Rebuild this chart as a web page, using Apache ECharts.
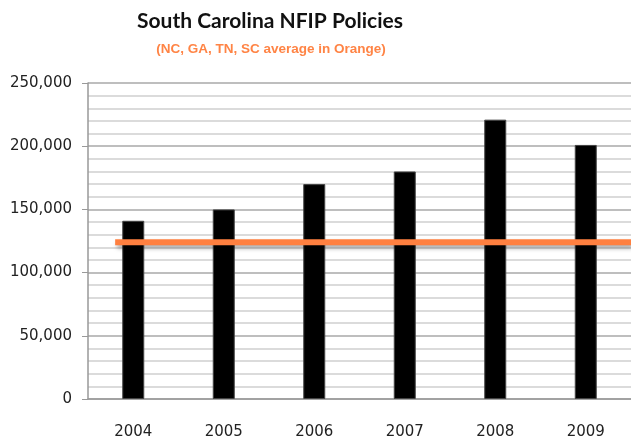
<!DOCTYPE html>
<html>
<head>
<meta charset="utf-8">
<script src="https://cdn.jsdelivr.net/npm/echarts@6/dist/echarts.min.js"></script>
<style>
  html, body { margin: 0; padding: 0; background: #fff; }
  #main { width: 631px; height: 442px; }
</style>
</head>
<body>
<div id="main"></div>
<script>
const years = ['2004', '2005', '2006', '2007', '2008', '2009']
const policies = [141000, 150000, 170000, 180000, 221000, 201000]
// orange average line, x in category units (starts a bit left of 2004)
const avgX = [0.3, 6]
const avgY = [124000, 124000]

const chart = echarts.init(document.getElementById('main'))

const option = {
  animation: false,
  title: [
    {
      text: 'South Carolina NFIP Policies',
      left: 265,
      top: 6,
      textAlign: 'center',
      textStyle: { fontFamily: 'Lato', fontSize: 21, fontWeight: 'bold', color: '#111' },
    },
    {
      text: '(NC, GA, TN, SC average in Orange)',
      left: 266,
      top: 37,
      textAlign: 'center',
      textStyle: { fontFamily: 'Liberation Sans Narrow, Liberation Sans', fontSize: 13.5, fontWeight: 'bold', color: '#ff8445' },
    },
  ],
  grid: { left: 88, right: 0, top: 83, bottom: 43 },
  xAxis: [
    {
      type: 'category',
      data: years,
      axisLine: { lineStyle: { color: '#999', width: 1.5 } },
      axisTick: { show: false },
      axisLabel: { color: '#222', fontFamily: 'DejaVu Sans', fontSize: 15, margin: 26 },
    },
    {
      type: 'value',
      min: 0,
      max: 6,
      show: false,
    },
  ],
  yAxis: {
    type: 'value',
    min: 0,
    max: 250000,
    interval: 50000,
    axisLine: { show: true, lineStyle: { color: '#999', width: 1.5 } },
    axisTick: { show: true, length: 6, lineStyle: { color: '#999' } },
    axisLabel: {
      color: '#222',
      fontFamily: 'DejaVu Sans',
      fontSize: 15,
      margin: 16,
      formatter: (v) => v.toLocaleString('en-US'),
    },
    splitLine: { lineStyle: { color: '#a8a8a8', width: 1.5 } },
    minorTick: { show: false, splitNumber: 5 },
    minorSplitLine: { show: true, lineStyle: { color: '#cfcfcf', width: 1.5 } },
  },
  series: [
    {
      name: 'SC',
      type: 'bar',
      data: policies,
      barWidth: 22,
      itemStyle: { color: '#000', borderColor: '#444', borderWidth: 1 },
    },
    {
      name: 'Average',
      type: 'line',
      xAxisIndex: 1,
      data: avgX.map((x, i) => [x, avgY[i]]),
      symbol: 'none',
      lineStyle: {
        color: '#ff8040',
        width: 6,
        cap: 'butt',
        shadowColor: 'rgba(0,0,0,0.35)',
        shadowBlur: 4,
        shadowOffsetX: 2,
        shadowOffsetY: 3,
      },
      z: 5,
    },
  ],
}

chart.setOption(option)
window.addEventListener('resize', () => chart.resize())
</script>
</body>
</html>
